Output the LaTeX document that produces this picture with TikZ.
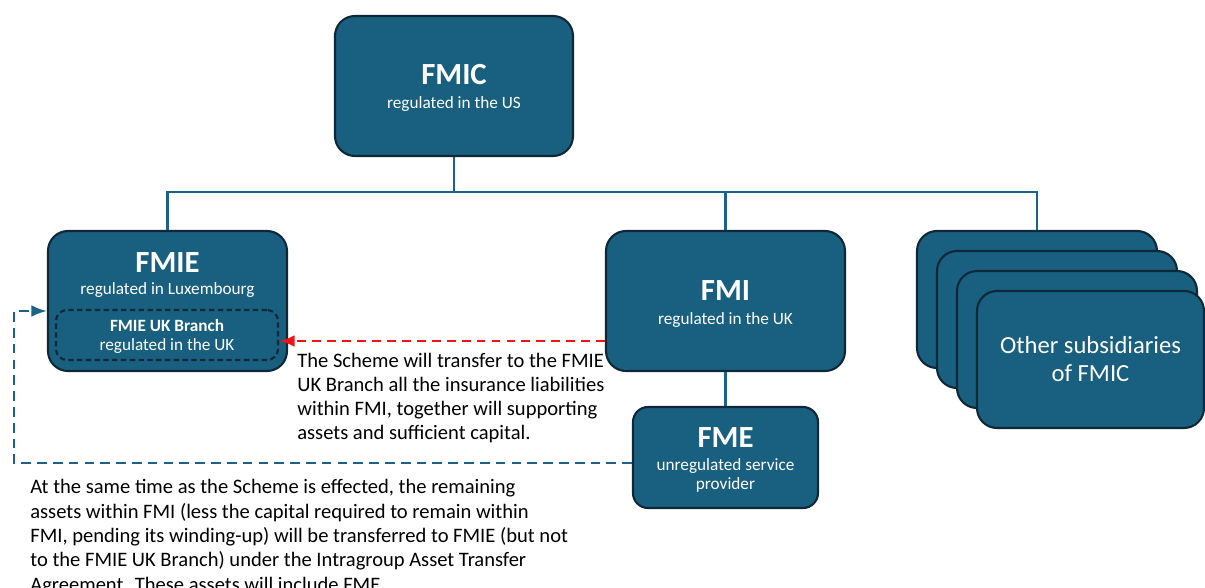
\documentclass[tikz,border=0pt]{standalone}
\usepackage{fontspec}
\setmainfont{Carlito}
\usetikzlibrary{arrows.meta}
\definecolor{entityblue}{RGB}{24,95,128}
\definecolor{entityedge}{RGB}{14,40,56}
\definecolor{treeblue}{RGB}{28,98,136}
\definecolor{schemered}{RGB}{240,20,20}

\begin{document}
\begin{tikzpicture}[
  >=Latex,
  entity/.style={draw=entityedge, line width=1.2pt, fill=entityblue,
    rounded corners=0.4cm, inner sep=0pt},
  branch/.style={draw=entityedge, line width=1.2pt, dash pattern=on 3pt off 2pt,
    rounded corners=0.22cm, inner sep=0pt},
  tree/.style={draw=treeblue, line width=1.5pt},
  title/.style={text=white, font=\bfseries\fontsize{17.5}{20}\selectfont, anchor=base},
  sub/.style={text=white, font=\fontsize{9.8}{11.5}\selectfont, anchor=base},
  note/.style={font=\fontsize{11.7}{13.7}\selectfont, align=left, anchor=north west,
    inner sep=0pt},
  schemearrow/.style={->, draw=schemered, line width=1.3pt, dash pattern=on 5pt off 3.5pt},
  assetarrow/.style={->, draw=treeblue, line width=1.3pt, dash pattern=on 5.5pt off 3.5pt}
]
\useasboundingbox (0,0) rectangle (24.1,11.74);

% Parent company.
\node[entity, minimum width=4.76cm, minimum height=2.80cm] (fmic) at (9.08,10.02) {};
\node[title] (fmicname) at (9.08,10.04) {FMIC};
\node[sub] (fmicreg) at (9.08,9.56) {regulated in the US};

% Luxembourg subsidiary with its UK branch.
\node[entity, minimum width=4.78cm, minimum height=2.80cm] (fmie) at (3.35,5.72) {};
\node[title] (fmiename) at (3.35,6.30) {FMIE};
\node[sub] (fmiereg) at (3.35,5.86) {regulated in Luxembourg};
\node[branch, minimum width=4.44cm, minimum height=1.00cm] (ukbranch) at (3.34,5.04) {};
\node[sub, font=\bfseries\fontsize{9.8}{11.5}\selectfont] (ukbranchname) at (3.34,5.12)
  {FMIE UK Branch};
\node[sub] (ukbranchreg) at (3.34,4.74) {regulated in the UK};

% UK company and its service provider.
\node[entity, minimum width=4.78cm, minimum height=2.80cm] (fmi) at (14.51,5.72) {};
\node[title] (fminame) at (14.51,5.74) {FMI};
\node[sub] (fmireg) at (14.51,5.26) {regulated in the UK};

\node[entity, rounded corners=0.3cm, minimum width=3.70cm, minimum height=2.02cm]
  (fme) at (14.51,2.59) {};
\node[title] (fmename) at (14.51,2.80) {FME};
\node[sub] (fmereg) at (14.51,2.34) {unregulated service};
\node[sub] (fmeprov) at (14.51,1.96) {provider};

% Stack of other subsidiaries.
\node[entity, minimum width=4.80cm, minimum height=2.74cm] (others1) at (20.74,5.75) {};
\node[entity, minimum width=4.80cm, minimum height=2.74cm] (others2) at (21.14,5.35) {};
\node[entity, minimum width=4.80cm, minimum height=2.74cm] (others3) at (21.54,4.95) {};
\node[entity, minimum width=4.54cm, minimum height=2.74cm] (others4) at (21.81,4.55) {};
\node[text=white, font=\fontsize{14}{15.9}\selectfont, align=center] (otherslabel)
  at (21.81,4.55) {Other subsidiaries\\of FMIC};

% Ownership tree.
\coordinate (bus) at (9.08,7.90);
\draw[tree] (fmic.south) -- (bus);
\draw[tree] (fmie.north) |- (bus) -| (others1.north);
\draw[tree] (fmi.north) -- (fmi.north |- bus);
\draw[tree] (fmi.south) -- (fme.north);

% Transfers.
\coordinate (schemestart) at ([yshift=-0.80cm]fmi.west);
\draw[schemearrow] (schemestart) -- (ukbranch.east |- schemestart);

\coordinate (assetstart) at ([yshift=-0.11cm]fme.west);
\coordinate (assetcorner) at (0.28,5.52);
\draw[assetarrow] (assetstart) -| (assetcorner) -- (assetcorner -| fmie.west);

\node[note] (schemenote) at (5.94,4.68)
  {The Scheme will transfer to the FMIE\\UK Branch all the insurance liabilities\\
   within FMI, together will supporting\\assets and sufficient capital.};
\node[note, font=\fontsize{11.7}{13.9}\selectfont] (assetnote) at (0.60,2.16)
  {At the same time as the Scheme is effected, the remaining\\
   assets within FMI (less the capital required to remain within\\
   FMI, pending its winding-up) will be transferred to FMIE (but not\\
   to the FMIE UK Branch) under the Intragroup Asset Transfer\\
   Agreement. These assets will include FME.};

\end{tikzpicture}
\end{document}
